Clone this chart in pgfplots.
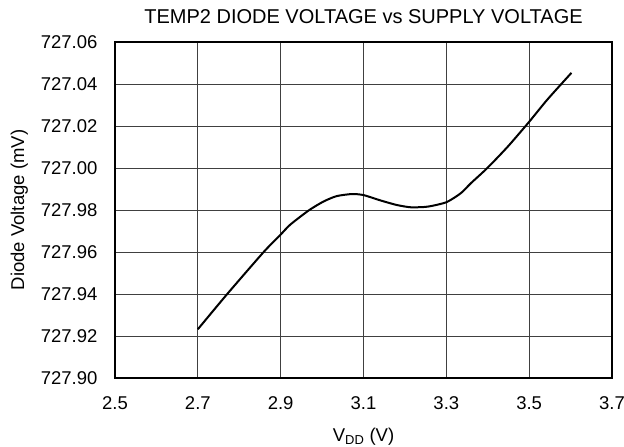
\documentclass[border=0pt]{standalone}
\usepackage{pgfplots}
\pgfplotsset{compat=1.18}
\usepackage{fontspec}
\setmainfont{Liberation Sans}
\begin{document}
\begin{tikzpicture}[x=1pt,y=1pt]
\path[use as bounding box] (0,0) rectangle (624,447);
\begin{axis}[
  at={(115pt,69pt)}, anchor=south west,
  scale only axis, width=497pt, height=336pt,
  xmin=2.5, xmax=3.7, ymin=727.90, ymax=728.06,
  xtick={2.5,2.7,2.9,3.1,3.3,3.5,3.7},
  xticklabels={2.5,2.7,2.9,3.1,3.3,3.5,3.7},
  ytick={727.90,727.92,727.94,727.96,727.98,728.00,728.02,728.04,728.06},
  yticklabels={727.90,727.92,727.94,727.96,727.98,727.00,727.02,727.04,727.06},
  /pgf/number format/assume math mode=true,
  major tick length=0pt,
  grid=major,
  major grid style={black!75, line width=0.8pt},
  axis line style={black, line width=2pt},
  ticklabel style={font=\fontsize{18.5}{20}\selectfont},
  xticklabel style={yshift=-15pt},
  yticklabel style={xshift=-14pt},
  xlabel={V\textsubscript{DD} (V)},
  ylabel={Diode Voltage (mV)},
  label style={font=\fontsize{18.5}{20}\selectfont},
  xlabel style={yshift=-12pt},
  ylabel style={yshift=6pt},
  title={TEMP2 DIODE VOLTAGE vs SUPPLY VOLTAGE},
  title style={font=\fontsize{20}{22}\selectfont, yshift=9pt},
]
\addplot[black, line width=2pt, smooth, tension=0.4] coordinates {
(2.700,727.9232) (2.771,727.9400) (2.859,727.9600) (2.900,727.9683)
(2.923,727.9730) (2.967,727.9797) (3.003,727.9840) (3.035,727.9866)
(3.072,727.9876) (3.100,727.9871) (3.142,727.9845) (3.180,727.9824)
(3.214,727.9813) (3.255,727.9816) (3.300,727.9837) (3.335,727.9880)
(3.359,727.9927) (3.399,728.0000) (3.448,728.0101) (3.500,728.0220)
(3.544,728.0326) (3.602,728.0453)
};
\end{axis}
\end{tikzpicture}
\end{document}
